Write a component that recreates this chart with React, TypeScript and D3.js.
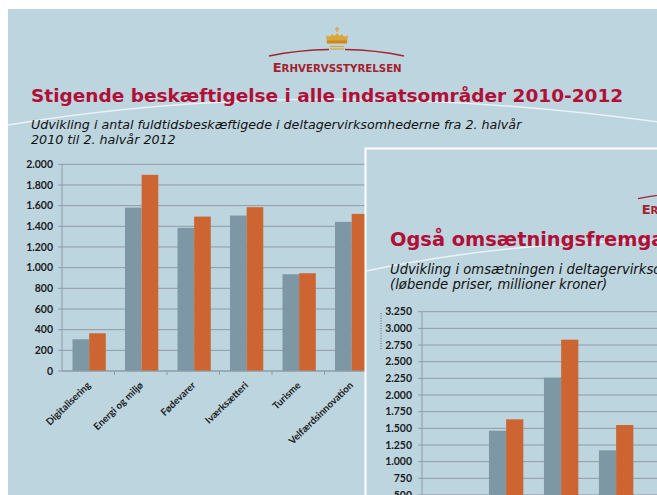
import React from 'react';
import * as d3 from 'd3';

const categories = ['Digitalisering', 'Energi og miljø', 'Fødevarer', 'Iværksætteri', 'Turisme', 'Velfærdsinnovation'];
const seriesNames = ['2. halvår 2010', '2. halvår 2012'];
const employment2010 = [307, 1581, 1385, 1504, 936, 1443];
const employment2012 = [365, 1898, 1494, 1585, 946, 1520];
const employmentTicks = [0, 200, 400, 600, 800, 1000, 1200, 1400, 1600, 1800, 2000];
const revenue2010 = [310, 1464, 2260, 1170, 380, 420];
const revenue2012 = [350, 1635, 2830, 1550, 410, 460];
const revenueTicks = [0, 250, 500, 750, 1000, 1250, 1500, 1750, 2000, 2250, 2500, 2750, 3000, 3250];

const BG = '#bdd5df';
const GRAY = '#7e97a5';
const ORANGE = '#cc6532';
const GRID = '#8d9ca4';
const RED = '#b10f37';
const LOGO_RED = '#a3222f';
const GOLD = '#dca538';

const fmt = d3.formatLocale({ decimal: ',', thousands: '.', grouping: [3], currency: ['', ''] }).format(',');

function Logo({ dx, dy }: { dx: number; dy: number }) {
  return (
    <g transform={`translate(${dx},${dy})`}>
      <path d="M327,43 L326,35 Q330,38.5 332,34 Q335,38 337,32.5 Q339,38 342,34 Q344,38.5 348,35 L347,43 Z" fill={GOLD} />
      <rect x={327} y={40.5} width={20} height={3} fill="#c98a1c" />
      <path d="M337,27 L337,32 M335,29 L339,29" stroke={GOLD} strokeWidth={1.3} />
      <line x1={330} x2={344} y1={46.5} y2={46.5} stroke={GOLD} strokeWidth={1.2} />
      <line x1={330} x2={344} y1={49} y2={49} stroke={GOLD} strokeWidth={1.2} />
      <path d="M269,56 Q298,50 329,49.5" fill="none" stroke={LOGO_RED} strokeWidth={1.3} />
      <path d="M345,49.5 Q376,50 404,56" fill="none" stroke={LOGO_RED} strokeWidth={1.3} />
      <text x={272.7} y={71.7} fontFamily="DejaVu Sans" fontWeight="bold" fill={LOGO_RED} textLength={129} lengthAdjust="spacingAndGlyphs">
        <tspan fontSize={12.5}>E</tspan>
        <tspan fontSize={9.8}>RHVERVSSTYRELSEN</tspan>
      </text>
    </g>
  );
}

type ChartProps = {
  values: number[][];
  ticks: number[];
  yDomain: [number, number];
  yRange: [number, number];
  xRange: [number, number];
  inner: [number, number];
  axisX: number;
  labelRight: number;
  gridRight: number;
  showCatLabels: boolean;
  fontSize: number;
};

function BarChart({ values, ticks, yDomain, yRange, xRange, inner, axisX, labelRight, gridRight, showCatLabels, fontSize }: ChartProps) {
  const y = d3.scaleLinear().domain(yDomain).range(yRange);
  const x = d3.scaleBand<string>().domain(categories).range(xRange);
  const bw = x.bandwidth();
  const xs = d3.scaleBand<string>().domain(seriesNames).range([bw * inner[0], bw * inner[1]]);
  const colors = [GRAY, ORANGE];
  return (
    <g>
      {ticks.map((t) => (
        <g key={t}>
          <line x1={axisX - 4} x2={gridRight} y1={y(t)} y2={y(t)} stroke={GRID} strokeWidth={1} />
          <text x={labelRight} y={y(t)} dy="0.35em" textAnchor="end" fontFamily="Lato" fontWeight="bold" fontSize={fontSize} fill="#1c1c1c">
            {fmt(t)}
          </text>
        </g>
      ))}
      <line x1={axisX} x2={axisX} y1={y(yDomain[0])} y2={y(yDomain[1])} stroke={GRID} strokeWidth={1} />
      {categories.map((c, i) => (
        <g key={c}>
          {seriesNames.map((s, j) => (
            <rect key={s} x={(x(c) as number) + (xs(s) as number)} width={xs.bandwidth()} y={y(values[j][i])} height={y(yDomain[0]) - y(values[j][i])} fill={colors[j]} />
          ))}
          <line x1={(x(c) as number) + bw} x2={(x(c) as number) + bw} y1={y(yDomain[0])} y2={y(yDomain[0]) + 4} stroke={GRID} />
          {showCatLabels && (
            <text transform={`translate(${(x(c) as number) + bw / 2 + 3},${y(yDomain[0]) + 15}) rotate(-44)`} textAnchor="end" fontFamily="Lato" fontWeight="bold" fontSize={9.8} fill="#1c1c1c">
              {c}
            </text>
          )}
        </g>
      ))}
      <line x1={axisX} x2={gridRight} y1={y(yDomain[0])} y2={y(yDomain[0])} stroke={GRID} strokeWidth={1} />
    </g>
  );
}

export default function App() {
  return (
    <svg width={657} height={495} style={{ position: 'absolute', left: 0, top: 0, display: 'block' }}>
      <rect x={0} y={0} width={657} height={495} fill="#ffffff" />
      <rect x={8} y={9} width={700} height={600} fill={BG} />
      <path d="M8,125 Q330,72 700,128" fill="none" stroke="#ffffff" strokeOpacity={0.7} strokeWidth={1.5} />
      <Logo dx={0} dy={0} />
      <text x={31} y={102} fontFamily="DejaVu Sans" fontWeight="bold" fontSize={18.5} fill={RED}>
        Stigende beskæftigelse i alle indsatsområder 2010-2012
      </text>
      <text x={31} y={128.5} fontFamily="DejaVu Sans" fontStyle="italic" fontSize={12.7} fill="#111">
        Udvikling i antal fuldtidsbeskæftigede i deltagervirksomhederne fra 2. halvår
      </text>
      <text x={31} y={144} fontFamily="DejaVu Sans" fontStyle="italic" fontSize={12.7} fill="#111">
        2010 til 2. halvår 2012
      </text>
      <BarChart
        values={[employment2010, employment2012]}
        ticks={employmentTicks}
        yDomain={[0, 2000]}
        yRange={[371, 164.3]}
        xRange={[62, 377]}
        inner={[0.2, 0.834]}
        axisX={62}
        labelRight={53}
        gridRight={380}
        showCatLabels={true}
        fontSize={10.5}
      />

      <rect x={365.5} y={148.5} width={400} height={400} fill={BG} stroke="#ffffff" strokeWidth={2} />
      <path d="M366,271 Q600,222 900,250" fill="none" stroke="#ffffff" strokeOpacity={0.7} strokeWidth={1.5} />
      <Logo dx={369} dy={142.6} />
      <text x={390} y={246} fontFamily="DejaVu Sans" fontWeight="bold" fontSize={19.4} fill={RED}>
        Også omsætningsfremgang i alle indsatsområder
      </text>
      <text x={390} y={273.5} fontFamily="DejaVu Sans" fontStyle="italic" fontSize={13.2} fill="#111">
        Udvikling i omsætningen i deltagervirksomhederne
      </text>
      <text x={390} y={289} fontFamily="DejaVu Sans" fontStyle="italic" fontSize={13.2} fill="#111">
        (løbende priser, millioner kroner)
      </text>
      <line x1={381} x2={381} y1={313} y2={349} stroke="#666" strokeWidth={1} strokeDasharray="1,1.5" />
      <BarChart
        values={[revenue2010, revenue2012]}
        ticks={revenueTicks}
        yDomain={[0, 3250]}
        yRange={[528.3, 311.7]}
        xRange={[423.5, 423.5 + 55 * 6]}
        inner={[0.19, 0.815]}
        axisX={422}
        labelRight={412}
        gridRight={800}
        showCatLabels={false}
        fontSize={10.5}
      />
    </svg>
  );
}
